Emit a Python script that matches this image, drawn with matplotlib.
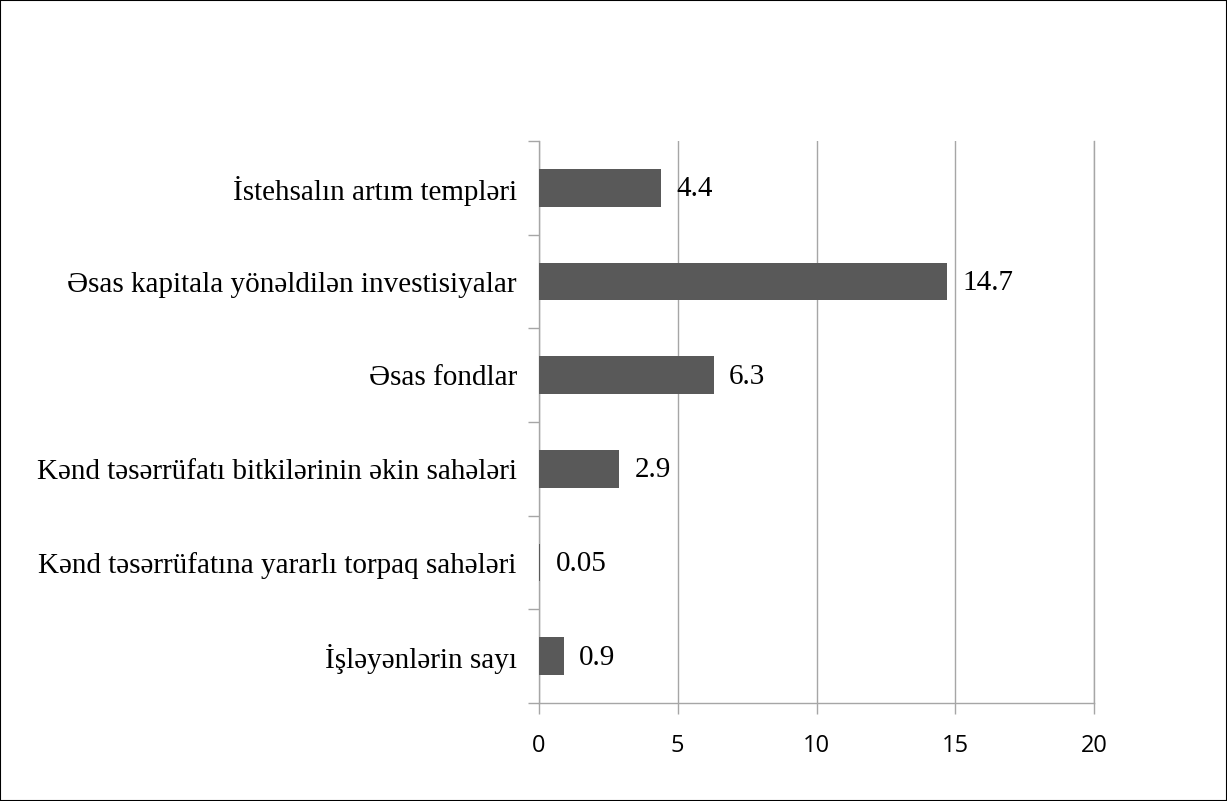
import matplotlib.pyplot as plt
import matplotlib.patches as patches

categories = [
    "İşləyənlərin sayı",
    "Kənd təsərrüfatına yararlı torpaq sahələri",
    "Kənd təsərrüfatı bitkilərinin əkin sahələri",
    "Əsas fondlar",
    "Əsas kapitala yönəldilən investisiyalar",
    "İstehsalın artım templəri",
]
values = [0.9, 0.05, 2.9, 6.3, 14.7, 4.4]
value_labels = ["0.9", "0.05", "2.9", "6.3", "14.7", "4.4"]
x_ticks = [0, 5, 10, 15, 20]

serif = ["Liberation Serif", "DejaVu Serif"]
grid_col = "#a6a6a6"

fig = plt.figure(figsize=(12.27, 8.01), dpi=100)
ax = fig.add_axes([539 / 1227, 1 - 703 / 801, (1094 - 539) / 1227, (703 - 141) / 801])

ypos = list(range(len(categories)))
ax.barh(ypos, values, height=0.4, color="#595959", zorder=3)
for y, v, lab in zip(ypos, values, value_labels):
    ax.annotate(lab, (v, y), xytext=(11, -1), textcoords="offset points",
                va="center", ha="left", fontsize=21, family=serif, zorder=4)

ax.set_xlim(0, 20)
ax.set_ylim(-0.5, len(categories) - 0.5)
ax.set_xticks(x_ticks)
ax.set_xticklabels([str(t) for t in x_ticks], fontsize=17, family=["Open Sans", "DejaVu Sans"])
ax.xaxis.grid(True, color=grid_col, linewidth=1.0, zorder=0)

# category ticks at boundaries, labels centered
ax.set_yticks([i - 0.5 for i in range(len(categories) + 1)])
ax.set_yticklabels([])
ax.set_yticks(ypos, minor=True)
ax.set_yticklabels(categories, minor=True, fontsize=21, family=serif)
ax.tick_params(axis="y", which="minor", length=0, pad=16)
ax.tick_params(axis="y", which="major", length=8, color=grid_col, width=1)
ax.tick_params(axis="x", length=8, color=grid_col, width=1, pad=14)

ax.spines["top"].set_visible(False)
for s in ["left", "bottom", "right"]:
    ax.spines[s].set_color(grid_col)
    ax.spines[s].set_linewidth(1.0)

fig.patches.append(patches.Rectangle((0, 0), 1, 1, transform=fig.transFigure,
                                     fill=False, edgecolor="black", linewidth=1.5))

fig.savefig("out.png", dpi=100)
